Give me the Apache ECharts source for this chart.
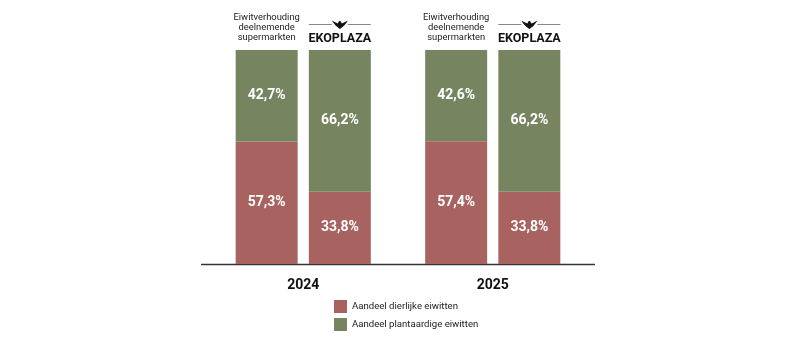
<!DOCTYPE html>
<html>
<head>
<meta charset="utf-8">
<script src="https://cdn.jsdelivr.net/npm/echarts@6/dist/echarts.min.js"></script>
<style>html,body{margin:0;padding:0;background:#fff;}#c{width:800px;height:345px;}</style>
</head>
<body>
<div id="c"></div>
<script>
const categories = ['2024', '2025'];
const supermarktDier = [57.3, 57.4];
const supermarktPlant = [42.7, 42.6];
const ekoplazaDier = [33.8, 33.8];
const ekoplazaPlant = [66.2, 66.2];
const legendNames = ['Aandeel dierlijke eiwitten', 'Aandeel plantaardige eiwitten'];
const headerSuper = 'Eiwitverhouding\ndeelnemende\nsupermarkten';
const headerEko = 'EKOPLAZA';

const RED = '#a8625f';
const GREEN = '#768560';

const birdSvg = 'data:image/svg+xml;utf8,' + encodeURIComponent(
  '<svg xmlns="http://www.w3.org/2000/svg" width="16" height="9" viewBox="0 0 16 9">' +
  '<path d="M0 0.5 Q3.5 2.5 6 3.6 L7 1.6 L8 0.8 L9 1.6 L10 3.6 Q12.5 2.5 16 0.5 Q13.5 5.5 8 9 Q2.5 5.5 0 0.5 Z" fill="#111"/></svg>');

const pct = p => p.value.toFixed(1).replace('.', ',') + '%';
const inLabel = { show: true, position: 'inside', formatter: pct, color: '#fff', fontSize: 14, fontWeight: 'bold', fontFamily: 'Roboto' };

const chart = echarts.init(document.getElementById('c'), null, { renderer: 'canvas' });
chart.setOption({
  animation: false,
  grid: { left: 208.5, right: 212.5, top: 50, bottom: 81 },
  xAxis: {
    type: 'category', data: categories,
    axisLine: { show: false }, axisTick: { show: false },
    axisLabel: { fontSize: 14, fontWeight: 'bold', color: '#111', fontFamily: 'Roboto', margin: 14 }
  },
  yAxis: { type: 'value', min: 0, max: 100, show: false, splitLine: { show: false } },
  legend: {
    data: legendNames, orient: 'vertical', left: 334, top: 300, padding: 0,
    itemWidth: 13, itemHeight: 13, itemGap: 5, icon: 'rect',
    textStyle: { fontSize: 9.6, color: '#222', fontFamily: 'Roboto' }
  },
  graphic: [{ type: 'line', shape: { x1: 201, y1: 264.5, x2: 595, y2: 264.5 }, style: { stroke: '#333', lineWidth: 1.5 } }],
  series: [
    { name: legendNames[0], type: 'bar', stack: 'super', data: supermarktDier, barWidth: 62, barGap: '18%', itemStyle: { color: RED }, label: inLabel },
    { name: legendNames[1], type: 'bar', stack: 'super', data: supermarktPlant, itemStyle: { color: GREEN }, label: inLabel },
    { name: 'hdrSuper', type: 'bar', stack: 'super', data: [0, 0], itemStyle: { color: 'transparent' },
      label: { show: true, position: 'top', distance: 7, formatter: headerSuper, color: '#222', fontSize: 9.4, lineHeight: 10,
        fontFamily: 'Roboto', align: 'center' } },
    { name: legendNames[0], type: 'bar', stack: 'eko', data: ekoplazaDier, barWidth: 62, itemStyle: { color: RED }, label: inLabel },
    { name: legendNames[1], type: 'bar', stack: 'eko', data: ekoplazaPlant, itemStyle: { color: GREEN }, label: inLabel },
    { name: 'hdrEko', type: 'bar', stack: 'eko', data: [0, 0], itemStyle: { color: 'transparent' },
      label: { show: true, position: 'top', distance: 3,
        formatter: '{l|}{b|}{l|}\n{t|' + headerEko + '}',
        rich: {
          l: { width: 23, height: 1, backgroundColor: '#888' },
          b: { width: 16, height: 9, backgroundColor: { image: birdSvg } },
          t: { fontSize: 12.5, fontWeight: 'bold', color: '#111', fontFamily: 'Roboto', lineHeight: 18, padding: [2, 0, 0, 0] }
        } } }
  ]
});
</script>
</body>
</html>
